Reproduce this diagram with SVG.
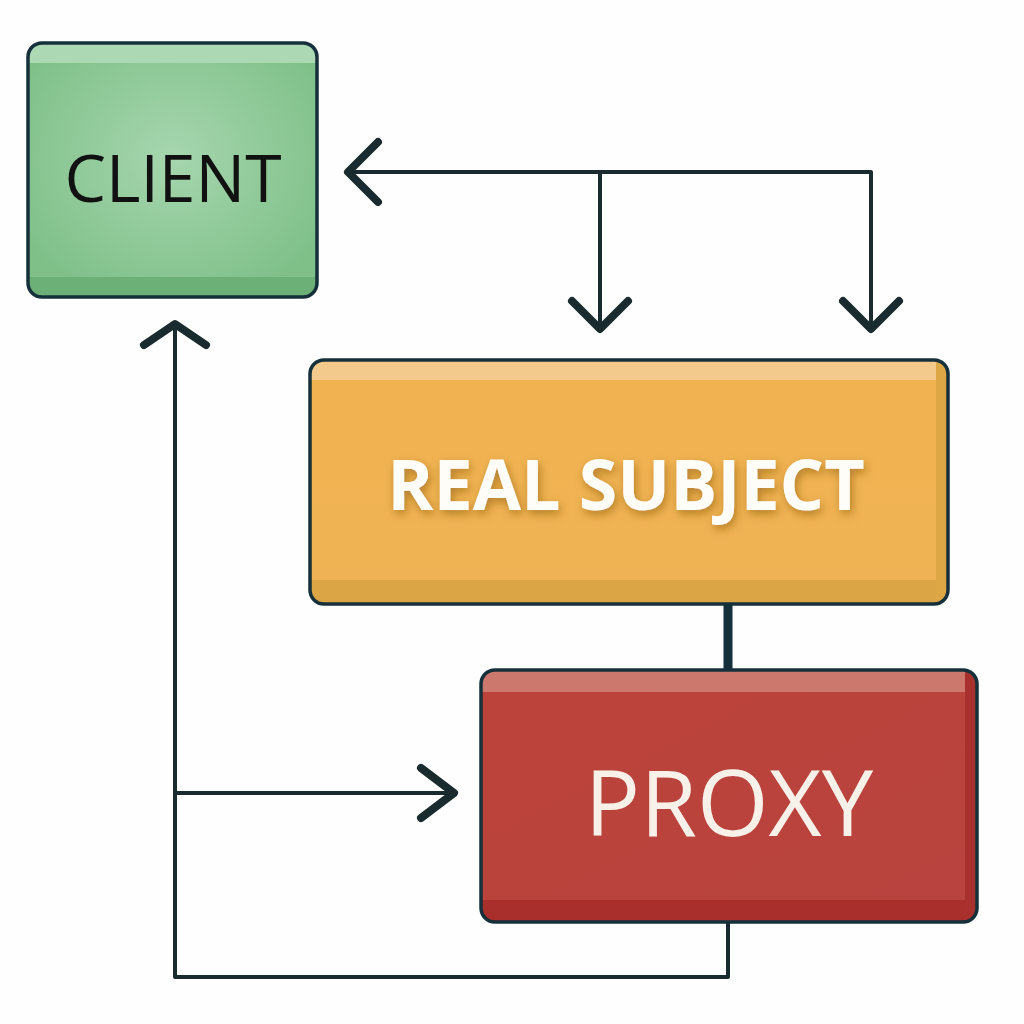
<svg xmlns="http://www.w3.org/2000/svg" width="1024" height="1024" viewBox="0 0 1024 1024">
<defs>
<radialGradient id="gGreen" cx="0.5" cy="0.45" r="0.6">
<stop offset="0" stop-color="#a6d6ae"/>
<stop offset="1" stop-color="#7fc089"/>
</radialGradient>
<linearGradient id="gOrange" x1="0" y1="0" x2="0" y2="1">
<stop offset="0" stop-color="#f1b350"/>
<stop offset="1" stop-color="#f0b355"/>
</linearGradient>
<linearGradient id="gRed" x1="0" y1="0" x2="1" y2="1">
<stop offset="0" stop-color="#bb433b"/>
<stop offset="1" stop-color="#b9433e"/>
</linearGradient>
<filter id="shadow" x="-10%" y="-30%" width="120%" height="160%">
<feGaussianBlur in="SourceAlpha" stdDeviation="5"/>
<feOffset dx="2" dy="4" result="b"/>
<feFlood flood-color="#8a5a10" flood-opacity="0.6"/>
<feComposite in2="b" operator="in"/>
<feMerge><feMergeNode/><feMergeNode in="SourceGraphic"/></feMerge>
</filter>
<clipPath id="cClient"><rect x="28" y="43" width="289" height="254" rx="14"/></clipPath>
<clipPath id="cReal"><rect x="310" y="360" width="638" height="244" rx="14"/></clipPath>
<clipPath id="cProxy"><rect x="481" y="670" width="496" height="252" rx="14"/></clipPath>
</defs>
<style>
.box{stroke:#15303a;stroke-width:3.5}
.line{fill:none;stroke:#1a2b30;stroke-width:4;stroke-linejoin:round}
.head{fill:none;stroke:#1a2b30;stroke-width:8;stroke-linecap:round;stroke-linejoin:round}
.lbl{font-family:"Open Sans","Noto Sans",sans-serif;text-anchor:middle}
</style>
<rect width="1024" height="1024" fill="#fdfefd"/>

<g id="connectors">
<polyline class="line" points="351,172 871,172 871,328"/>
<line class="line" x1="600" y1="172" x2="600" y2="328"/>
<polyline class="head" points="378,142 348,172 378,202"/>
<polyline class="head" points="572,301 600,329 628,301"/>
<polyline class="head" points="843,301 871,329 899,301"/>
<polyline class="line" points="175,326 175,977 728,977 728,922"/>
<line class="line" x1="175" y1="793" x2="452" y2="793"/>
<polyline class="head" points="144,345 175,324 206,345"/>
<polyline class="head" points="421,768 454,793 421,818"/>
<line x1="728" y1="604" x2="728" y2="670" stroke="#15303a" stroke-width="9"/>
</g>

<g id="client">
<g clip-path="url(#cClient)">
<rect x="28" y="43" width="289" height="254" fill="url(#gGreen)"/>
<rect x="28" y="43" width="289" height="20" fill="#acd8b3"/>
<rect x="28" y="277" width="289" height="20" fill="#6cb077"/>
</g>
<rect class="box" x="28" y="43" width="289" height="254" rx="14" fill="none"/>
<text class="lbl" x="173" y="202" font-size="66" fill="#111">CLIENT</text>
</g>

<g id="real-subject">
<g clip-path="url(#cReal)">
<rect x="310" y="360" width="638" height="244" fill="url(#gOrange)"/>
<rect x="310" y="360" width="638" height="20" fill="#f4c98c"/>
<rect x="310" y="580" width="638" height="24" fill="#dba545"/>
<rect x="936" y="360" width="12" height="244" fill="#dea746"/>
</g>
<rect class="box" x="310" y="360" width="638" height="244" rx="14" fill="none"/>
<text class="lbl" x="626" y="510" font-size="70" font-weight="bold" fill="#fffdf8" filter="url(#shadow)">REAL SUBJECT</text>
</g>

<g id="proxy">
<g clip-path="url(#cProxy)">
<rect x="481" y="670" width="496" height="252" fill="url(#gRed)"/>
<rect x="481" y="670" width="496" height="22" fill="#cd786c"/>
<rect x="481" y="900" width="496" height="22" fill="#a92f2d"/>
<rect x="965" y="670" width="12" height="252" fill="#a8312e"/>
</g>
<rect class="box" x="481" y="670" width="496" height="252" rx="14" fill="none"/>
<text class="lbl" x="729" y="836" font-size="92" fill="#f8f1e9">PROXY</text>
</g>
</svg>
